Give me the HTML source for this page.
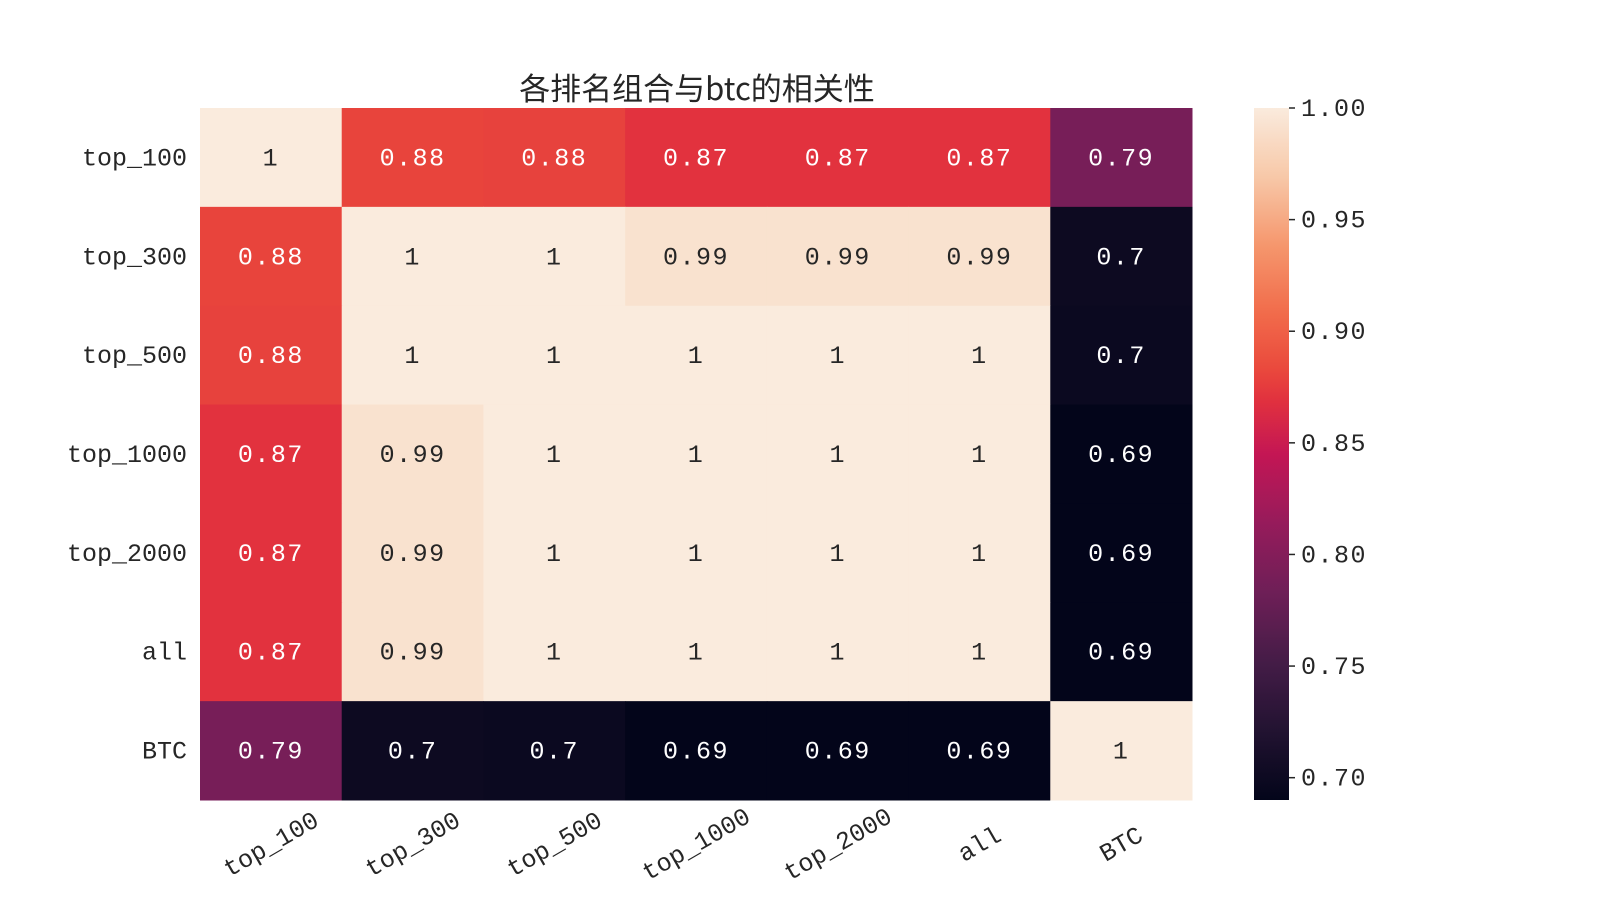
<!DOCTYPE html>
<html><head><meta charset="utf-8">
<style>
html,body{margin:0;padding:0;background:#fff;}
svg text{font-family:"Liberation Mono","WenQuanYi Zen Hei",monospace;}
</style></head>
<body>
<svg id="chart" width="1600" height="900" viewBox="0 0 1600 900" xmlns="http://www.w3.org/2000/svg">
<defs>
<linearGradient id="cbgrad" x1="0" y1="1" x2="0" y2="0"></linearGradient>
</defs>
<text x="697" y="100" font-size="31" text-anchor="middle" fill="#262626" style="font-family:'WenQuanYi Zen Hei','Noto Sans CJK SC',sans-serif">各排名组合与btc的相关性</text>
<g id="cells"></g>
<g id="ylabels"></g>
<g id="xlabels"></g>
<g id="colorbar"></g>
</svg>
<script>
const categories = ["top_100","top_300","top_500","top_1000","top_2000","all","BTC"];
const rowTop100  = [1, 0.880, 0.879, 0.870, 0.870, 0.870, 0.790];
const rowTop300  = [0.880, 1, 1, 0.992, 0.992, 0.992, 0.700];
const rowTop500  = [0.879, 1, 1, 1, 1, 1, 0.698];
const rowTop1000 = [0.870, 0.992, 1, 1, 1, 1, 0.690];
const rowTop2000 = [0.870, 0.992, 1, 1, 1, 1, 0.690];
const rowAll     = [0.870, 0.992, 1, 1, 1, 1, 0.690];
const rowBTC     = [0.790, 0.700, 0.698, 0.690, 0.690, 0.690, 1];
const cbTicks = [0.70, 0.75, 0.80, 0.85, 0.90, 0.95, 1.00];
const cbTickLabels = ["0.70","0.75","0.80","0.85","0.90","0.95","1.00"];
const vmin = 0.69, vmax = 1.0;
const matrix = [rowTop100,rowTop300,rowTop500,rowTop1000,rowTop2000,rowAll,rowBTC];

const NS = "http://www.w3.org/2000/svg";
const L = 200, T = 108, R = 1192, B = 800;
const cw = (R-L)/categories.length, ch = (B-T)/categories.length;
const xPos = i => L + i*cw;
const yPos = i => T + i*ch;

const stops = [[0,[3,5,26]],[0.1,[34,19,49]],[0.2,[69,28,71]],[0.3,[110,31,87]],[0.4,[150,27,91]],[0.5,[196,22,84]],[0.58,[226,50,62]],[0.62,[233,72,60]],[0.7,[241,106,74]],[0.8,[245,150,108]],[0.9,[247,200,168]],[1,[250,235,221]]];
function cmap(v){
  let t=Math.max(0,Math.min(1,(v-vmin)/(vmax-vmin)));
  for(let i=1;i<stops.length;i++){
    if(t<=stops[i][0]){
      const a=stops[i-1],b=stops[i],f=(t-a[0])/(b[0]-a[0]);
      const c=a[1].map((x,k)=>Math.round(x+(b[1][k]-x)*f));
      return {css:`rgb(${c[0]},${c[1]},${c[2]})`,lum:0.299*c[0]+0.587*c[1]+0.114*c[2]};
    }
  }
  return {css:"rgb(250,235,221)",lum:240};
}
function fmt(v){ const r=Math.round(v*100)/100; return r===1?"1":r.toFixed(2).replace(/0$/,""); }

const cells=document.getElementById("cells");
matrix.forEach((row,ri)=>{
  row.forEach((v,ci)=>{
    const c=cmap(v);
    const r=document.createElementNS(NS,"rect");
    r.setAttribute("x",xPos(ci));r.setAttribute("y",yPos(ri));
    r.setAttribute("width",cw+0.5);r.setAttribute("height",ch+0.5);
    r.setAttribute("fill",c.css);
    
    
    cells.appendChild(r);
    const t=document.createElementNS(NS,"text");
    t.setAttribute("x",xPos(ci)+cw/2);t.setAttribute("y",yPos(ri)+ch/2+8);
    t.setAttribute("text-anchor","middle");t.setAttribute("font-size","25");
    t.setAttribute("letter-spacing","1.5");
    t.setAttribute("fill",c.lum>128?"#262626":"#ffffff");
    t.textContent=fmt(v);
    
    
    cells.appendChild(t);
  });
});
const yl=document.getElementById("ylabels"), xl=document.getElementById("xlabels");
categories.forEach((c,i)=>{
  const t=document.createElementNS(NS,"text");
  t.setAttribute("x",187);t.setAttribute("y",yPos(i)+ch/2+8);
  t.setAttribute("text-anchor","end");t.setAttribute("font-size","25");t.setAttribute("fill","#262626");
  t.textContent=c;
  
  
  yl.appendChild(t);
  const x=document.createElementNS(NS,"text");
  const cx=xPos(i)+cw/2, cy=B+52;
  x.setAttribute("x",cx);x.setAttribute("y",cy);
  x.setAttribute("text-anchor","middle");x.setAttribute("font-size","25");x.setAttribute("fill","#262626");
  x.setAttribute("transform",`rotate(-30 ${cx} ${cy-8})`);
  x.textContent=c;
  
  
  xl.appendChild(x);
});
const grad=document.getElementById("cbgrad");
for(let i=0;i<=40;i++){
  const s=document.createElementNS(NS,"stop");
  s.setAttribute("offset",(i/40));
  s.setAttribute("stop-color",cmap(vmin+(vmax-vmin)*i/40).css);
  grad.appendChild(s);
}
const cb=document.getElementById("colorbar");
const CBL=1254, CBR=1289;
const cbY=v=>B-(v-vmin)/(vmax-vmin)*(B-T);
const bar=document.createElementNS(NS,"rect");
bar.setAttribute("x",CBL);bar.setAttribute("y",T);bar.setAttribute("width",CBR-CBL);bar.setAttribute("height",B-T);
bar.setAttribute("fill","url(#cbgrad)");


cb.appendChild(bar);
cbTicks.forEach((v,i)=>{
  const y=cbY(v);
  const l=document.createElementNS(NS,"line");
  l.setAttribute("x1",CBR);l.setAttribute("x2",CBR+6);l.setAttribute("y1",y);l.setAttribute("y2",y);
  l.setAttribute("stroke","#262626");l.setAttribute("stroke-width","1.5");
  
  
  cb.appendChild(l);
  const t=document.createElementNS(NS,"text");
  t.setAttribute("x",CBR+12);t.setAttribute("y",y+8);t.setAttribute("font-size","25");t.setAttribute("fill","#262626");
  t.setAttribute("letter-spacing","1.5");
  t.textContent=cbTickLabels[i];
  
  
  cb.appendChild(t);
});
</script>
</body></html>
